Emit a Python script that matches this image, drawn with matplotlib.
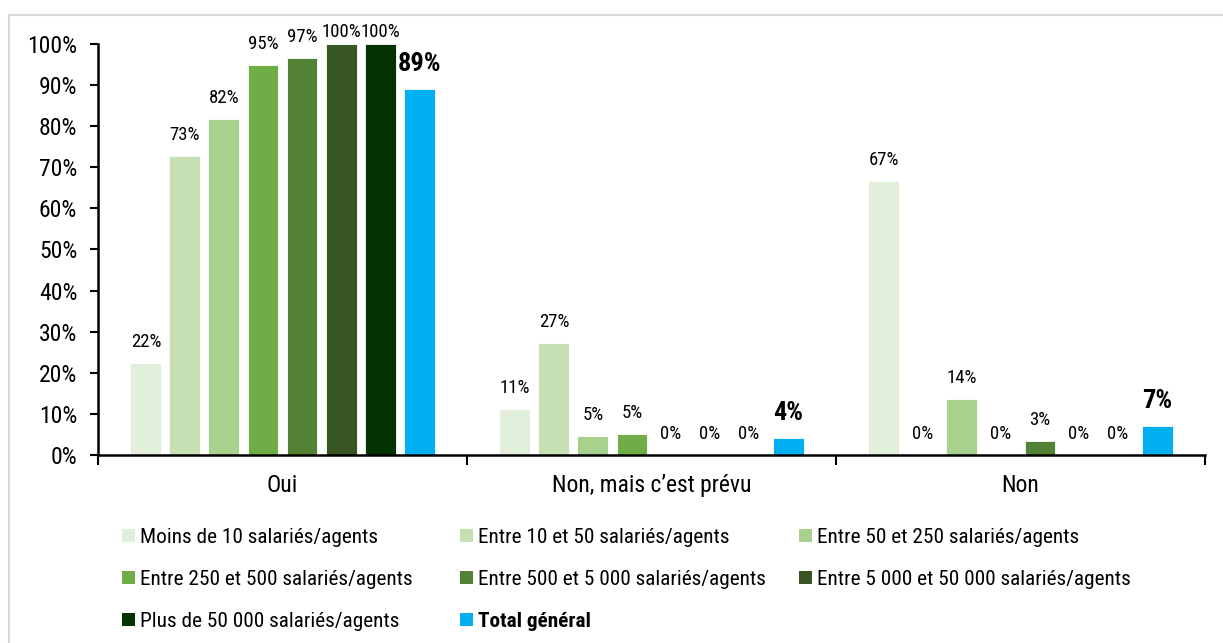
import matplotlib
matplotlib.use("Agg")
import matplotlib.pyplot as plt
import matplotlib.font_manager as fm
from matplotlib.patches import Rectangle, Patch
from matplotlib.ticker import FixedLocator, PercentFormatter
import numpy as np

# ---- data ----
categories = ["Oui", "Non, mais c\u2019est prévu", "Non"]
series_names = [
    "Moins de 10 salariés/agents",
    "Entre 10 et 50 salariés/agents",
    "Entre 50 et 250 salariés/agents",
    "Entre 250 et 500 salariés/agents",
    "Entre 500 et 5 000 salariés/agents",
    "Entre 5 000 et 50 000 salariés/agents",
    "Plus de 50 000 salariés/agents",
    "Total général",
]
moins_10 = [22.4, 11.2, 66.7]
entre_10_50 = [72.7, 27.3, 0.0]
entre_50_250 = [81.8, 4.6, 13.6]
entre_250_500 = [94.9, 5.1, 0.0]
entre_500_5000 = [96.6, 0.0, 3.4]
entre_5000_50000 = [100.0, 0.0, 0.0]
plus_50000 = [100.0, 0.0, 0.0]
total_general = [89.0, 4.1, 7.0]
series_values = [moins_10, entre_10_50, entre_50_250, entre_250_500,
                 entre_500_5000, entre_5000_50000, plus_50000, total_general]
colors = ["#E2EFDA", "#C6E0B4", "#A9D18E", "#70AD47", "#548235",
          "#375623", "#023300", "#00B0F0"]

# ---- font ----
family = "DejaVu Sans"
for cand in ["Roboto Condensed", "Liberation Sans Narrow", "Roboto"]:
    try:
        fm.findfont(fm.FontProperties(family=cand), fallback_to_default=False)
        family = cand
        break
    except Exception:
        pass
plt.rcParams["font.family"] = [family, "DejaVu Sans"]

W, H = 1223, 643
fig = plt.figure(figsize=(W / 100, H / 100), dpi=100)
ax = fig.add_axes([98 / W, 1 - 455 / H, (1205 - 98) / W, (455 - 44) / H])

# outer frame (top & left visible)
fig.patches.append(Rectangle((9 / W, -0.05), 1.2, 1 - 15 / H + 0.05,
                             transform=fig.transFigure, fill=False,
                             edgecolor="#D9D9D9", linewidth=1.5, zorder=0))

n = len(series_values)
step = 0.1057
width = 0.084
x = np.arange(len(categories))
for i, (vals, c, name) in enumerate(zip(series_values, colors, series_names)):
    pos = x + (i - (n - 1) / 2) * step
    bars = ax.bar(pos, vals, width=width, color=c, edgecolor="white",
                  linewidth=0.6, label=name, zorder=2)
    bold = (i == n - 1)
    for b, v in zip(bars, vals):
        off = 13 if bold else 11.5
        if v >= 99.5:
            off = 5  # label kept inside the chart area
        ax.annotate(f"{v:.0f}%", (b.get_x() + b.get_width() / 2, v),
                    xytext=(0, off), textcoords="offset points",
                    ha="center", va="baseline",
                    fontsize=19 if bold else 13.5,
                    fontweight="bold" if bold else "normal", color="black",
                    annotation_clip=False)

ax.set_xlim(-0.5, len(categories) - 0.5)
ax.set_ylim(0, 100)
ax.yaxis.set_major_locator(FixedLocator(np.arange(0, 101, 10)))
ax.yaxis.set_major_formatter(PercentFormatter(decimals=0))
ax.tick_params(axis="y", labelsize=17, length=6, width=1.5, pad=9, direction="out")

ax.set_xticks(x)
ax.set_xticklabels(categories)
ax.set_xticks(np.arange(-0.5, len(categories), 1.0), minor=True)
ax.tick_params(axis="x", which="major", length=0, labelsize=17, pad=14)
ax.tick_params(axis="x", which="minor", length=7, width=1.5, direction="out")

for s in ["top", "right"]:
    ax.spines[s].set_visible(False)
for s in ["left", "bottom"]:
    ax.spines[s].set_linewidth(1.8)
    ax.spines[s].set_color("black")
ax.spines["left"].set_zorder(3)

# legend: three columns drawn as three legends
handles = [Patch(facecolor=c, edgecolor="none") for c in colors]
col_x = [122, 460, 799]
groups = [[0, 3, 6], [1, 4, 7], [2, 5]]
for cx, g in zip(col_x, groups):
    leg = fig.legend([handles[k] for k in g], [series_names[k] for k in g],
                     loc="upper left", bbox_to_anchor=(cx / W, 1 - 528 / H),
                     frameon=False, fontsize=15.3, handlelength=0.6,
                     handleheight=0.6, handletextpad=0.25, labelspacing=1.08,
                     borderaxespad=0, borderpad=0)
    for k, t in zip(g, leg.get_texts()):
        if k == n - 1:
            t.set_fontweight("bold")

fig.savefig("out.png", dpi=100)
